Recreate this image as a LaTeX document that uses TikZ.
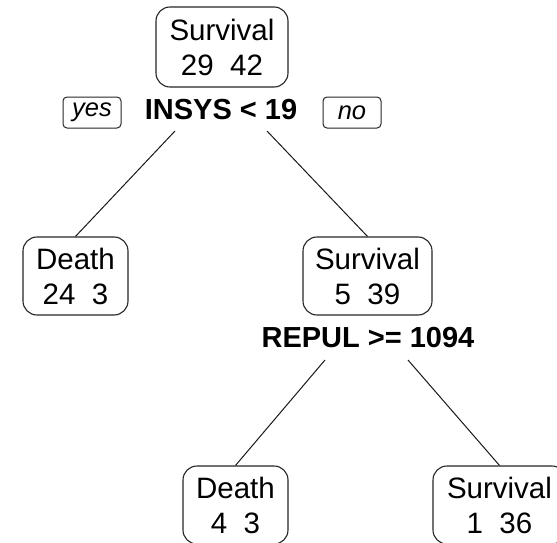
\documentclass[tikz,border=0pt]{standalone}
\usepackage{fontspec}
\setmainfont{Liberation Sans}
\begin{document}
\begin{tikzpicture}[x=1pt,y=-1pt,
  leaf/.style={draw=black!85, line width=1.1pt, rounded corners=14pt, align=center,
    font=\fontsize{29.5}{35}\selectfont, minimum height=78pt, inner sep=1pt},
  split/.style={font=\fontsize{29}{33}\selectfont\bfseries, inner sep=0pt, anchor=base},
  yn/.style={draw=black!85, line width=1pt, rounded corners=4pt, font=\fontsize{25.5}{28}\selectfont\itshape,
    minimum width=58pt, minimum height=31pt, inner sep=0pt},
  edge/.style={line width=1pt, black!90}]
\clip (0,0) rectangle (557,543);
\fill[white] (0,0) rectangle (557,543);
% root
\node[leaf, minimum width=132pt, minimum height=80pt] (root) at (222,47) {Survival\\29~~42};
\node[split] (s1) at (221,119) {INSYS < 19};
\node[yn] (yes) at (92,112.5) {yes};
\node[yn] (no) at (352,112.5) {no};
% level 2
\node[leaf, minimum width=105pt] (d1) at (75.5,276) {Death\\24~~3};
\node[leaf, minimum width=129pt] (s2) at (367.5,276) {Survival\\5~~39};
\node[split] (r1) at (368,347) {REPUL >= 1094};
% level 3
\node[leaf, minimum width=105pt] (d2) at (235.5,505) {Death\\4~~3};
\node[leaf, minimum width=133pt] (s3) at (499.5,505) {Survival\\1~~36};
% connectors
\coordinate (a1) at (175,131);
\coordinate (a2) at (267,131);
\coordinate (b1) at (325,360);
\coordinate (b2) at (408,360);
\draw[edge] (a1) -- (d1.north);
\draw[edge] (a2) -- (s2.north);
\draw[edge] (b1) -- (d2.north);
\draw[edge] (b2) -- (s3.north);
\end{tikzpicture}
\end{document}
